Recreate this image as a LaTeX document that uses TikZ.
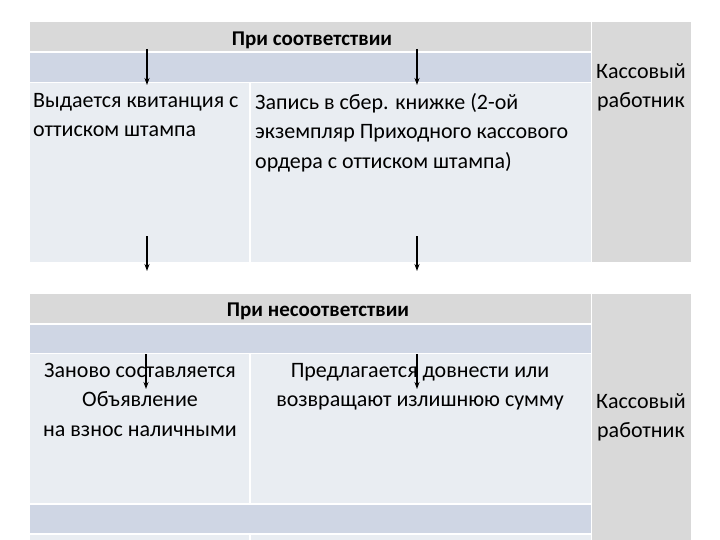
\documentclass[tikz,border=0pt]{standalone}
\usepackage{fontspec}
\setmainfont{Carlito}
\usetikzlibrary{arrows.meta}
\definecolor{hdr}{HTML}{D9D9D9}
\definecolor{band}{HTML}{CFD6E4}
\definecolor{lite}{HTML}{E9EDF2}
\tikzset{
  txt/.style={font=\fontsize{22}{29.5}\selectfont, inner sep=0pt},
  htxt/.style={font=\bfseries\fontsize{21}{24}\selectfont, inner sep=0pt},
  arr/.style={line width=1.3pt, -{Stealth[length=7pt,width=5pt]}},
}
\begin{document}
\begin{tikzpicture}[x=1pt,y=-1pt]
\useasboundingbox (0,0) rectangle (720,540);
\fill[white] (0,0) rectangle (720,540);
% top table
\fill[hdr] (30,22) rectangle (591,51);
\fill[band] (30,53) rectangle (591,82);
\fill[lite] (30,83) rectangle (591,262);
\draw[white,line width=2pt] (250,83) -- (250,262);
\fill[hdr] (592,22) rectangle (691,262);
% bottom table
\fill[hdr] (30,294) rectangle (591,323);
\fill[band] (30,325) rectangle (591,353);
\fill[lite] (30,354) rectangle (591,503);
\draw[white,line width=2pt] (250,354) -- (250,503);
\fill[band] (30,505) rectangle (591,533);
\fill[lite] (30,535) rectangle (591,540);
\draw[white,line width=2pt] (250,535) -- (250,540);
\fill[hdr] (592,294) rectangle (691,540);
% texts
\node[htxt] (h1) at (312,40) {При соответствии};
\node[txt,align=left,anchor=north west] (t1) at (33,93) {Выдается квитанция с\\оттиском штампа};
\node[txt,align=left,anchor=north west] (t2) at (255,93) {Запись в сбер. книжке (2-ой\\экземпляр Приходного кассового\\ордера с оттиском штампа)};
\node[txt,align=center,anchor=north] (k1) at (641,63) {Кассовый\\работник};
\node[htxt] (h2) at (318,311) {При несоответствии};
\node[txt,align=center,anchor=north] (b1) at (140,363) {Заново составляется\\Объявление\\на взнос наличными};
\node[txt,align=center,anchor=north] (b2) at (420,363) {Предлагается довнести или\\возвращают излишнюю сумму};
\node[txt,align=center,anchor=north] (k2) at (641,393) {Кассовый\\работник};
% arrows
\coordinate (a1s) at (147,49); \coordinate (a1e) at (147,85);
\coordinate (a2s) at (417,49); \coordinate (a2e) at (417,85);
\coordinate (a3s) at (147,236); \coordinate (a3e) at (147,271);
\coordinate (a4s) at (417,236); \coordinate (a4e) at (417,271);
\coordinate (a5s) at (146,354); \coordinate (a5e) at (146,389);
\coordinate (a6s) at (417,354); \coordinate (a6e) at (417,389);
\foreach \i in {1,...,6} \draw[arr] (a\i s) -- (a\i e);
\end{tikzpicture}
\end{document}
